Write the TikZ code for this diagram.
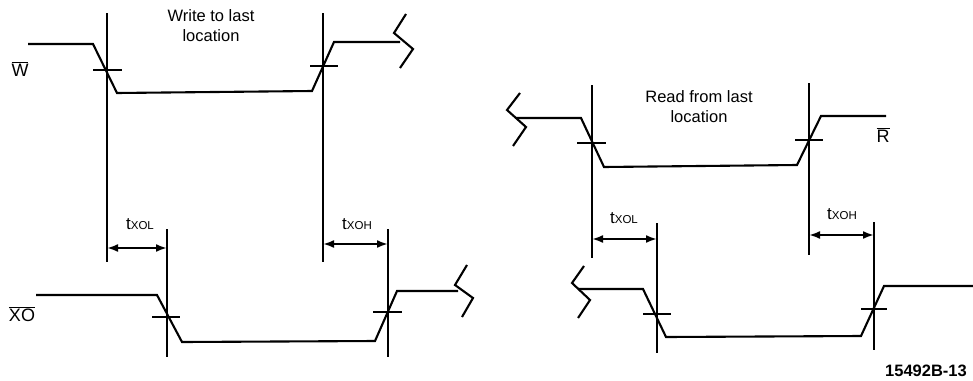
\documentclass[tikz,border=0pt]{standalone}
\usepackage{fontspec}
\setmainfont{Liberation Sans}
\usetikzlibrary{arrows.meta}
\begin{document}
\begin{tikzpicture}[x=1pt,y=-1pt,
  sig/.style={line width=2.1pt,line join=miter},
  vline/.style={line width=2.1pt},
  tick/.style={line width=2.1pt},
  dim/.style={line width=2.1pt,{Latex[length=11pt,width=8pt]}-{Latex[length=11pt,width=8pt]}},
  lbl/.style={font=\fontsize{16.5}{20}\selectfont,align=center,inner sep=0pt},
  tlbl/.style={font=\fontsize{17}{18}\selectfont,inner sep=0pt,anchor=base},
  sname/.style={font=\fontsize{18}{20}\selectfont,inner sep=0pt}]
\useasboundingbox (0,0) rectangle (973,380);
% ---------- Left: write ----------
\draw[vline] (107,13) -- (107,262);
\draw[vline] (323,13) -- (323,262);
\draw[vline] (167,229) -- (167,357);
\draw[vline] (388,229) -- (388,357);
% W signal
\draw[sig] (28,44) -- (93,44) -- (117,93) -- (312,91) -- (334,42) -- (400,42);
\draw[sig] (406,14) -- (394,33) -- (413,49) -- (400,68);
\draw[tick] (93,70) -- (122,70);
\draw[tick] (310,66) -- (338,66);
% XO signal
\draw[sig] (36,295) -- (157,295) -- (182,342) -- (375,341) -- (397,291) -- (458,291);
\draw[sig] (467,265) -- (455,285) -- (473,298) -- (462,317);
\draw[tick] (152,317) -- (180,317);
\draw[tick] (373,312) -- (402,312);
% dimensions
\coordinate (a1) at (107,248); \coordinate (b1) at (167,248);
\coordinate (a2) at (323,244); \coordinate (b2) at (388,244);
\draw[dim] (a1) -- (b1);
\draw[dim] (a2) -- (b2);
\node[tlbl] (t1) at (140,229) {t{\fontsize{11.5}{12}\selectfont XOL}};
\node[tlbl] (t2) at (357,229) {t{\fontsize{11.5}{12}\selectfont XOH}};
\node[lbl] (w) at (211,26) {Write to last\\location};
\node[sname] (wn) at (20,69) {$\overline{\hbox{W}}$};
\node[sname] (xon) at (22,314) {$\overline{\hbox{XO}}$};
% ---------- Right: read ----------
\draw[vline] (592,85) -- (592,258);
\draw[vline] (809,83) -- (809,255);
\draw[vline] (657,223) -- (657,353);
\draw[vline] (874,222) -- (874,350);
% R signal
\draw[sig] (520,93) -- (507,110) -- (526,127) -- (513,146);
\draw[sig] (516,118) -- (581,118) -- (604,167) -- (797,165) -- (821,116) -- (886,116);
\draw[tick] (577,143) -- (606,143);
\draw[tick] (795,140) -- (823,140);
% lower signal
\draw[sig] (584,266) -- (572,283) -- (590,300) -- (578,318);
\draw[sig] (578,289) -- (643,289) -- (666,337) -- (861,336) -- (884,286) -- (973,286);
\draw[tick] (643,314) -- (671,314);
\draw[tick] (861,309) -- (887,309);
\coordinate (a3) at (592,239); \coordinate (b3) at (657,239);
\coordinate (a4) at (809,235); \coordinate (b4) at (874,235);
\draw[dim] (a3) -- (b3);
\draw[dim] (a4) -- (b4);
\node[tlbl] (t3) at (624,223) {t{\fontsize{11.5}{12}\selectfont XOL}};
\node[tlbl] (t4) at (842,219) {t{\fontsize{11.5}{12}\selectfont XOH}};
\node[lbl] (r) at (699,107) {Read from last\\location};
\node[sname] (rn) at (883,135) {$\overline{\hbox{R}}$};
\node[font=\bfseries\fontsize{16.5}{18}\selectfont,inner sep=0pt,anchor=base east] (fig) at (967,376) {15492B-13};
\end{tikzpicture}
\end{document}
